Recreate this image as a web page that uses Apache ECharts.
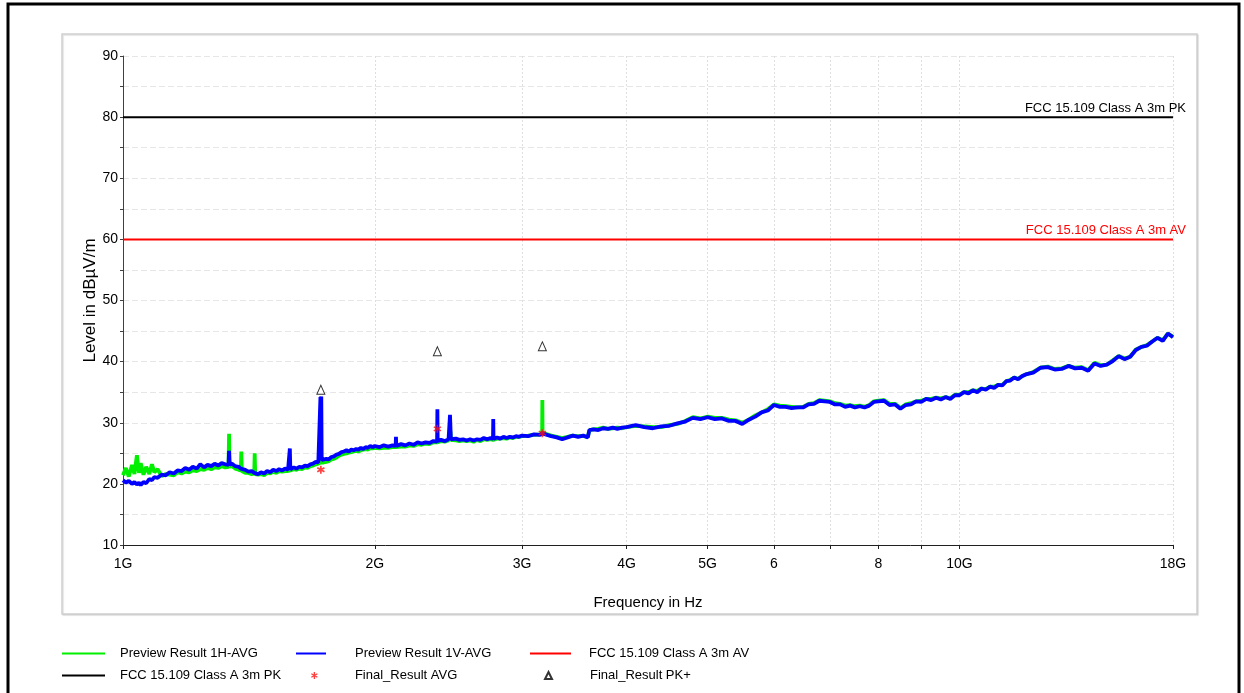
<!DOCTYPE html>
<html>
<head>
<meta charset="utf-8">
<title>Radiated emission 1-18 GHz</title>
<script src="https://cdn.jsdelivr.net/npm/echarts@6/dist/echarts.min.js"></script>
<style>
  html, body { margin: 0; padding: 0; background: #ffffff; }
  #chart { width: 1244px; height: 693px; }
</style>
</head>
<body>
<div id="chart"></div>
<script>
// Frequency points of the preview scans, in GHz
const FREQ_GHZ = [
  1.000, 1.008, 1.016, 1.025, 1.032, 1.039, 1.045, 1.050, 1.058, 1.066,
  1.075, 1.083, 1.090, 1.100, 1.112, 1.125, 1.137, 1.150, 1.162, 1.175,
  1.187, 1.200, 1.212, 1.225, 1.237, 1.250, 1.262, 1.275, 1.287, 1.300,
  1.312, 1.325, 1.337, 1.339, 1.341, 1.350, 1.362, 1.375, 1.383, 1.385,
  1.387, 1.400, 1.412, 1.425, 1.435, 1.437, 1.439, 1.450, 1.462, 1.475,
  1.487, 1.500, 1.512, 1.525, 1.537, 1.550, 1.562, 1.575, 1.581, 1.583,
  1.585, 1.600, 1.612, 1.625, 1.637, 1.650, 1.662, 1.675, 1.687, 1.700,
  1.712, 1.720, 1.722, 1.724, 1.726, 1.728, 1.737, 1.750, 1.762, 1.775,
  1.787, 1.800, 1.812, 1.825, 1.837, 1.850, 1.862, 1.875, 1.887, 1.900,
  1.912, 1.925, 1.937, 1.950, 1.962, 1.975, 1.987, 2.000,
  2.025, 2.050, 2.075, 2.100, 2.118, 2.120, 2.122, 2.150, 2.175, 2.200,
  2.225, 2.250, 2.275, 2.300, 2.325, 2.350, 2.374, 2.376, 2.378, 2.400,
  2.425, 2.450, 2.457, 2.460, 2.463, 2.466, 2.475, 2.500, 2.525, 2.550,
  2.575, 2.600, 2.625, 2.650, 2.675, 2.700, 2.725, 2.750, 2.769, 2.771,
  2.773, 2.800, 2.825, 2.850, 2.875, 2.900, 2.925, 2.950, 2.975, 3.000,
  3.050, 3.100, 3.150, 3.170, 3.172, 3.174, 3.200, 3.250, 3.300, 3.350,
  3.400, 3.450, 3.500, 3.550, 3.595, 3.610, 3.650, 3.700, 3.750, 3.800,
  3.850, 3.900, 3.950, 4.000,
  4.1, 4.2, 4.3, 4.4, 4.5, 4.6, 4.7, 4.8, 4.9, 5.0,
  5.1, 5.2, 5.3, 5.4, 5.5, 5.6, 5.7, 5.8, 5.9, 6.0,
  6.1, 6.2, 6.3, 6.4, 6.5, 6.6, 6.7, 6.8, 6.9, 7.0,
  7.1, 7.2, 7.3, 7.4, 7.5, 7.6, 7.7, 7.8, 7.9, 8.0,
  8.125, 8.25, 8.375, 8.5, 8.625, 8.75, 8.875, 9.0, 9.125, 9.25,
  9.375, 9.5, 9.625, 9.75, 9.875, 10.0, 10.125, 10.25, 10.375, 10.5,
  10.625, 10.75, 10.875, 11.0, 11.125, 11.25, 11.375, 11.5, 11.625, 11.75,
  11.875, 12.0,
  12.25, 12.5, 12.75, 13.0, 13.25, 13.5, 13.75, 14.0, 14.25, 14.5,
  14.75, 15.0, 15.25, 15.5, 15.75, 16.0, 16.25, 16.5, 16.75, 17.0,
  17.25, 17.5, 17.75, 18.0
];

// Preview Result 1H-AVG, dBµV/m
const LEVEL_1H = [
  21.4, 22.6, 21.2, 23.1, 21.6, 24.7, 21.8, 23.4, 21.5, 22.8,
  21.6, 23.2, 21.9, 22.4, 21.3, 21.6, 21.5, 21.4, 21.9, 21.7,
  22.0, 21.9, 22.2, 22.1, 22.4, 22.3, 22.6, 22.4, 22.7, 22.6,
  22.9, 22.7, 22.8, 28.2, 22.8, 22.9, 22.5, 22.3, 22.2, 25.3,
  22.1, 21.8, 21.8, 21.6, 21.7, 25.0, 21.6, 21.5, 21.6, 21.4,
  21.8, 21.7, 22.0, 21.8, 22.1, 22.0, 22.1, 22.1, 22.3, 22.3,
  22.2, 22.4, 22.3, 22.5, 22.4, 22.7, 22.6, 22.9, 23.0, 23.2,
  23.3, 23.4, 23.5, 23.4, 23.5, 23.6, 23.5, 23.6, 23.7, 24.0,
  24.1, 24.3, 24.6, 24.8, 24.9, 25.0, 25.1, 25.2, 25.3, 25.4,
  25.3, 25.5, 25.6, 25.7, 25.6, 25.8, 25.8, 25.9,
  25.8, 25.9, 25.9, 26.0, 26.0, 26.1, 26.0, 26.1, 26.1, 26.3,
  26.2, 26.5, 26.4, 26.6, 26.5, 26.8, 26.8, 26.9, 26.9, 27.0,
  26.9, 27.1, 27.1, 27.3, 28.6, 27.2, 27.0, 27.1, 27.0, 27.1,
  27.0, 27.1, 26.9, 27.2, 27.0, 27.3, 27.2, 27.3, 27.2, 27.3,
  27.3, 27.4, 27.4, 27.5, 27.4, 27.6, 27.5, 27.7, 27.7, 27.8,
  27.9, 28.0, 28.1, 28.2, 33.7, 28.3, 28.2, 27.9, 27.7, 27.5,
  27.7, 27.9, 27.8, 27.8, 27.7, 28.8, 28.9, 29.0, 29.2, 29.0,
  29.1, 29.2, 29.1, 29.3,
  29.5, 29.4, 29.3, 29.3, 29.6, 29.8, 30.3, 30.9, 30.7, 31.0,
  30.8, 30.8, 30.5, 30.4, 30.0, 30.5, 31.2, 31.7, 32.2, 33.0,
  32.8, 32.7, 32.6, 32.5, 32.6, 33.1, 33.2, 33.7, 33.6, 33.5,
  33.2, 33.1, 32.8, 32.9, 32.7, 32.8, 32.6, 32.9, 33.5, 33.6,
  33.7, 33.1, 33.1, 32.4, 33.0, 33.2, 33.5, 33.6, 33.9, 33.9,
  34.1, 34.0, 34.2, 34.0, 34.6, 34.6, 35.0, 35.0, 35.3, 35.2,
  35.6, 35.5, 35.9, 35.9, 36.2, 36.2, 36.8, 37.0, 37.4, 37.2,
  37.6, 37.9,
  38.3, 39.0, 39.2, 38.8, 38.9, 39.3, 39.0, 39.1, 38.6, 39.8,
  39.4, 39.5, 40.2, 40.9, 40.5, 40.8, 42.0, 42.4, 42.7, 43.3,
  43.9, 43.5, 44.6, 44.1
];

// Preview Result 1V-AVG, dBµV/m
const LEVEL_1V = [
  20.6, 20.2, 20.5, 20.0, 20.3, 19.9, 20.2, 19.8, 20.3, 20.1,
  20.8, 20.6, 21.1, 21.0, 21.5, 21.4, 21.9, 21.7, 22.2, 22.1,
  22.6, 22.3, 22.8, 22.5, 23.2, 22.7, 23.1, 22.9, 23.3, 23.0,
  23.4, 23.2, 23.1, 25.4, 23.2, 23.3, 22.9, 22.8, 22.5, 22.6,
  22.4, 22.3, 22.0, 22.1, 21.8, 21.9, 21.8, 21.6, 21.9, 21.7,
  22.1, 21.9, 22.3, 22.1, 22.4, 22.2, 22.5, 22.3, 22.5, 25.8,
  22.4, 22.7, 22.5, 22.8, 22.7, 23.0, 22.9, 23.2, 23.3, 23.6,
  23.5, 23.8, 34.2, 33.8, 34.3, 23.9, 23.8, 24.1, 24.0, 24.4,
  24.5, 24.8, 24.9, 25.2, 25.3, 25.5, 25.3, 25.6, 25.5, 25.7,
  25.6, 25.9, 25.7, 26.0, 25.9, 26.2, 26.0, 26.2,
  26.0, 26.3, 26.1, 26.3, 26.2, 27.7, 26.2, 26.5, 26.3, 26.6,
  26.4, 26.8, 26.6, 26.8, 26.7, 27.0, 26.9, 32.2, 27.0, 27.2,
  27.0, 27.3, 27.2, 31.3, 31.0, 27.3, 27.1, 27.4, 27.2, 27.3,
  27.1, 27.3, 27.1, 27.3, 27.2, 27.5, 27.3, 27.5, 27.4, 30.6,
  27.4, 27.6, 27.4, 27.7, 27.5, 27.7, 27.6, 27.8, 27.7, 27.9,
  27.8, 28.1, 28.0, 28.3, 28.4, 28.2, 28.1, 27.8, 27.6, 27.3,
  27.6, 27.9, 27.7, 27.9, 27.6, 28.8, 28.9, 28.8, 29.1, 29.0,
  29.2, 29.0, 29.2, 29.3,
  29.6, 29.3, 29.1, 29.4, 29.5, 29.9, 30.2, 30.8, 30.6, 30.9,
  30.6, 30.7, 30.3, 30.3, 29.8, 30.5, 31.0, 31.7, 32.0, 32.9,
  32.6, 32.6, 32.4, 32.5, 32.5, 33.0, 33.1, 33.6, 33.5, 33.4,
  33.0, 33.0, 32.6, 32.8, 32.5, 32.7, 32.5, 32.8, 33.4, 33.5,
  33.6, 32.9, 33.0, 32.3, 32.9, 33.0, 33.5, 33.4, 33.9, 33.7,
  34.1, 33.8, 34.2, 33.9, 34.5, 34.5, 35.0, 34.8, 35.3, 35.0,
  35.6, 35.4, 35.9, 35.7, 36.2, 36.1, 36.8, 36.9, 37.4, 37.1,
  37.6, 37.9,
  38.2, 39.0, 39.1, 38.7, 38.8, 39.3, 38.9, 39.0, 38.5, 39.7,
  39.3, 39.5, 40.1, 40.9, 40.4, 40.8, 41.9, 42.4, 42.6, 43.3,
  43.9, 43.4, 44.6, 44.0
];

// FCC 15.109 Class A limits at 3 m
const LIMIT_FREQ = [1, 18];
const LIMIT_AV = [60, 60];
const LIMIT_PK = [80, 80];

// Final measurements
const FINAL_FREQ = [1.724, 2.376, 3.172];
const FINAL_AVG = [22.3, 29.0, 28.3];
const FINAL_PK = [35.4, 41.7, 42.5];

// Axis ticks
const X_TICKS = [1, 2, 3, 4, 5, 6, 7, 8, 9, 10, 18];
const X_TICK_LABELS = ['1G', '2G', '3G', '4G', '5G', '6', '', '8', '', '10G', '18G'];
const Y_MIN = 10, Y_MAX = 90, Y_STEP = 10;

const FONT = "'Liberation Sans', Arial, sans-serif";

// six-armed asterisk for the average final results
const ASTERISK = 'path://M4 0L6 0L6 10L4 10Z' +
  'M0.17 3.37L1.17 1.63L9.83 6.63L8.83 8.37Z' +
  'M0.17 6.63L8.83 1.63L9.83 3.37L1.17 8.37Z';

const pairs = (xs, ys) => xs.map((x, i) => [x, ys[i]]);

function xLabel(v) {
  for (let i = 0; i < X_TICKS.length; i++) {
    if (Math.abs(X_TICKS[i] - v) < 1e-6 * X_TICKS[i]) return X_TICK_LABELS[i];
  }
  return '';
}

// legend entry: icon at (left, top), text pushed right by a blank rich-text spacer
function legendEntry(name, icon, left, top, w, h, gap) {
  return {
    left: left, top: top, itemWidth: w, itemHeight: h, selectedMode: false, padding: 0,
    data: [{ name: name, icon: icon }],
    formatter: n => '{gap|}' + n,
    textStyle: {
      fontFamily: FONT, fontSize: 13, color: '#000',
      rich: { gap: { width: gap } }
    }
  };
}

const chart = echarts.init(document.getElementById('chart'), null, { renderer: 'canvas' });

chart.setOption({
  animation: false,
  backgroundColor: '#ffffff',
  graphic: [
    {
      type: 'rect', silent: true, z: -10,
      shape: { x: 8, y: 4, width: 1231, height: 720 },
      style: { fill: 'none', stroke: '#000', lineWidth: 3 }
    },
    {
      type: 'rect', silent: true, z: -10,
      shape: { x: 62, y: 34, width: 1135, height: 580 },
      style: { fill: '#fff', stroke: '#cfcfcf', lineWidth: 1.5,
               shadowColor: 'rgba(0,0,0,0.12)', shadowOffsetX: 1, shadowOffsetY: 1, shadowBlur: 1 }
    }
  ],
  grid: { left: 123, right: 71, top: 56, bottom: 148, containLabel: false },
  legend: [
    legendEntry('Preview Result 1H-AVG', 'rect', 62, 647, 43, 2, 10),
    legendEntry('Preview Result 1V-AVG', 'rect', 296, 647, 30, 2, 24),
    legendEntry('FCC 15.109 Class A 3m AV', 'rect', 530, 647, 41, 2, 13),
    legendEntry('FCC 15.109 Class A 3m PK', 'rect', 62, 669, 43, 2, 10),
    legendEntry('Final_Result AVG', ASTERISK, 311, 669, 7, 7, 32),
    legendEntry('Final_Result PK+', 'triangle', 544, 669, 7, 7, 33)
  ],
  xAxis: {
    type: 'log', logBase: 10, min: 1, max: 18,
    name: 'Frequency in Hz', nameLocation: 'middle', nameGap: 50,
    nameTextStyle: { fontFamily: FONT, fontSize: 15, color: '#000' },
    axisLine: { show: true, lineStyle: { color: '#202020', width: 1 } },
    axisTick: { show: true, customValues: X_TICKS, length: 4, lineStyle: { color: '#202020' } },
    minorTick: { show: false },
    axisLabel: {
      customValues: X_TICKS.filter((v, i) => X_TICK_LABELS[i] !== ''),
      formatter: xLabel, margin: 12,
      fontFamily: FONT, fontSize: 14, color: '#000'
    },
    splitLine: { show: true, lineStyle: { color: '#dedede', width: 1, type: [2, 2] } },
    minorSplitLine: { show: false }
  },
  yAxis: {
    type: 'value', min: Y_MIN, max: Y_MAX, interval: Y_STEP,
    name: 'Level in dBµV/m', nameLocation: 'middle', nameGap: 24, nameRotate: 90,
    nameMoveOverlap: false,
    nameTextStyle: { fontFamily: FONT, fontSize: 17, color: '#000' },
    axisLine: { show: true, lineStyle: { color: '#404040', width: 1 } },
    axisTick: { show: true, length: 3, lineStyle: { color: '#404040' } },
    minorTick: { show: true, splitNumber: 2, length: 3, lineStyle: { color: '#404040' } },
    axisLabel: { margin: 5, fontFamily: FONT, fontSize: 14, color: '#000' },
    splitLine: { show: true, lineStyle: { color: '#e6e6e6', width: 1, type: [6, 3] } },
    minorSplitLine: { show: true, lineStyle: { color: '#e6e6e6', width: 1, type: [6, 3] } }
  },
  series: [
    {
      name: 'Preview Result 1H-AVG', type: 'line', symbol: 'none', z: 2,
      data: pairs(FREQ_GHZ, LEVEL_1H),
      lineStyle: { color: '#00f000', width: 3.8 }, itemStyle: { color: '#00f000' }
    },
    {
      name: 'Preview Result 1V-AVG', type: 'line', symbol: 'none', z: 3,
      data: pairs(FREQ_GHZ, LEVEL_1V),
      lineStyle: { color: '#0000ff', width: 3.8 }, itemStyle: { color: '#0000ff' }
    },
    {
      name: 'FCC 15.109 Class A 3m AV', type: 'line', symbol: 'none', z: 4,
      data: pairs(LIMIT_FREQ, LIMIT_AV),
      lineStyle: { color: '#ff0000', width: 2 }, itemStyle: { color: '#ff0000' },
      endLabel: {
        show: true, formatter: 'FCC 15.109 Class A 3m AV',
        align: 'right', verticalAlign: 'bottom', distance: 13, offset: [0, -2],
        fontFamily: FONT, fontSize: 13, color: '#ff0000'
      }
    },
    {
      name: 'FCC 15.109 Class A 3m PK', type: 'line', symbol: 'none', z: 4,
      data: pairs(LIMIT_FREQ, LIMIT_PK),
      lineStyle: { color: '#000000', width: 2 }, itemStyle: { color: '#000000' },
      endLabel: {
        show: true, formatter: 'FCC 15.109 Class A 3m PK',
        align: 'right', verticalAlign: 'bottom', distance: 13, offset: [0, -2],
        fontFamily: FONT, fontSize: 13, color: '#000000'
      }
    },
    {
      name: 'Final_Result AVG', type: 'scatter', z: 6,
      data: pairs(FINAL_FREQ, FINAL_AVG),
      symbol: ASTERISK, symbolSize: 8,
      itemStyle: { color: '#ff1010' }
    },
    {
      name: 'Final_Result PK+', type: 'scatter', z: 6,
      data: pairs(FINAL_FREQ, FINAL_PK),
      symbol: 'triangle', symbolSize: [8, 9],
      itemStyle: { color: '#ffffff', borderColor: '#000000', borderWidth: 1 }
    }
  ]
});
</script>
</body>
</html>
